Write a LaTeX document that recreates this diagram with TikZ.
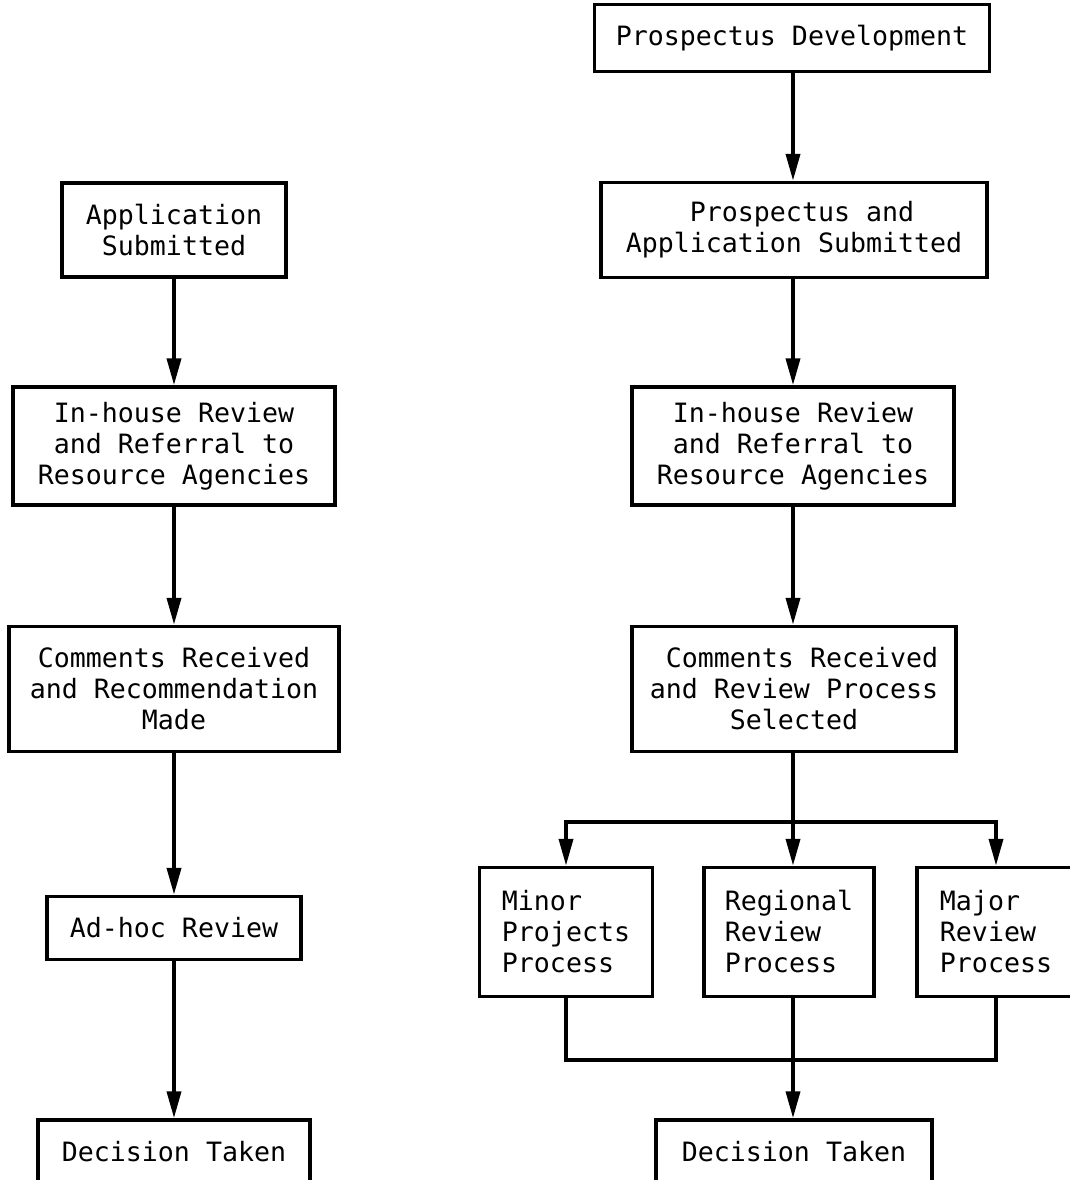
\documentclass[tikz,border=0pt]{standalone}
\usepackage{fontspec}
\newfontfamily\typewriterfont{DejaVu Sans Mono}
\usetikzlibrary{arrows.meta}
\begin{document}
\begin{tikzpicture}[x=1pt,y=-1pt,
  box/.style={draw, line width=3.5pt, inner sep=0pt, align=center,
    font=\typewriterfont\fontsize{26.6}{31}\selectfont},
  leftbox/.style={box, align=left},
  flow/.style={line width=3.8pt, -{Triangle[length=27pt,width=14pt]}},
  link/.style={line width=3.8pt}]
\useasboundingbox (0,0) rectangle (1069,1180);
\fill[white] (0,0) rectangle (1069,1180);

% ---- existing procedure (left column) ----
\node[box, minimum width=224pt, minimum height=94pt] (app) at (174,230)
  {Application\\Submitted};
\node[box, minimum width=322pt, minimum height=118pt] (inl) at (174,446)
  {In-house Review\\and Referral to\\Resource Agencies};
\node[box, minimum width=330pt, minimum height=125pt] (coml) at (174,689)
  {Comments Received\\and Recommendation\\Made};
\node[box, minimum width=254pt, minimum height=63pt] (adhoc) at (174,928)
  {Ad-hoc Review};
\node[box, minimum width=272pt, minimum height=66pt] (decl) at (174,1153)
  {\raisebox{3pt}{Decision Taken}};

\draw[flow] (app.south) -- (inl.north);
\draw[flow] (inl.south) -- (coml.north);
\draw[flow] (coml.south) -- (adhoc.north);
\draw[flow] (adhoc.south) -- (decl.north);

% ---- proposed procedure (right column) ----
\node[box, minimum width=395pt, minimum height=67pt] (pd) at (792,38)
  {Prospectus Development};
\node[box, minimum width=386pt, minimum height=95pt] (pas) at (794,230)
  {\phantom{x}Prospectus and\\Application Submitted};
\node[box, minimum width=322pt, minimum height=118pt] (inr) at (793,446)
  {In-house Review\\and Referral to\\Resource Agencies};
\node[box, minimum width=324pt, minimum height=125pt] (comr) at (794,689)
  {\phantom{x}Comments Received\\and Review Process\\Selected};

\node[leftbox, minimum width=173pt, minimum height=129pt] (minor) at (566,932)
  {Minor\\Projects\\Process};
\node[leftbox, minimum width=170pt, minimum height=129pt] (regional) at (789,932)
  {Regional\\Review\\Process};
\node[leftbox, minimum width=158pt, minimum height=129pt] (major) at (996,932)
  {Major\\Review\\Process};

\node[box, minimum width=276pt, minimum height=66pt] (decr) at (794,1153)
  {\raisebox{3pt}{Decision Taken}};

\coordinate (split) at (793,822);
\coordinate (join) at (793,1060);

\draw[flow] (pd.south -| split) -- (pas.north -| split);
\draw[flow] (pas.south -| split) -- (inr.north -| split);
\draw[flow] (inr.south -| split) -- (comr.north -| split);

% fan out to the three review processes
\draw[link] (comr.south -| split) -- (split);
\draw[flow] (split) -- (split |- regional.north);
\draw[flow] (split) -| (minor.north);
\draw[flow] (split) -| (major.north);

% merge back into the decision
\draw[link] (minor.south) |- (join) -| (major.south);
\draw[link] (regional.south -| split) -- (join);
\draw[flow] (join) -- (decr.north -| join);
\end{tikzpicture}
\end{document}
